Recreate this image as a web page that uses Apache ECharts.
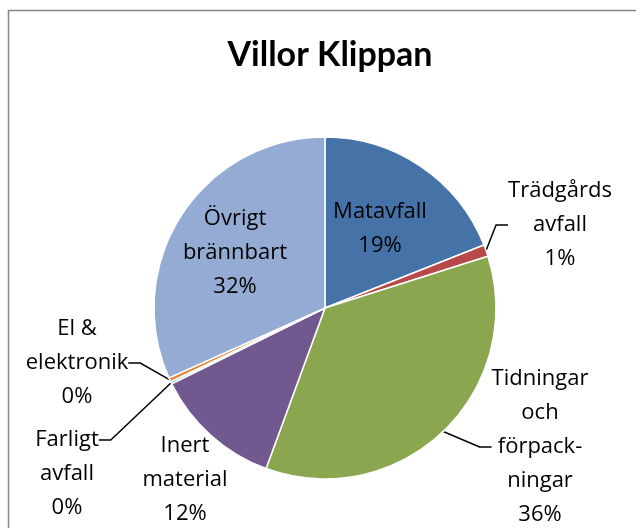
<!DOCTYPE html>
<html>
<head>
<meta charset="utf-8">
<script src="https://cdn.jsdelivr.net/npm/echarts@6/dist/echarts.min.js"></script>
<style>
  html, body { margin: 0; padding: 0; background: #fff; }
  #chart { width: 636px; height: 528px; }
</style>
</head>
<body>
<div id="chart"></div>
<script>
// category labels as drawn (wrapped like in the picture)
const categories = [
  "Matavfall",
  "Trädgårds\navfall",
  "Tidningar\noch\nförpack-\nningar",
  "Inert\nmaterial",
  "Farligt\navfall",
  "El &\nelektronik",
  "Övrigt\nbrännbart"
];
// share of total, percent
const values = [19.0, 1.1, 35.5, 12.1, 0.2, 0.4, 31.7];
const colors = ["#4572a7", "#b8484a", "#8aa74f", "#71598f", "#4aa3b8", "#e8873a", "#94abd3"];

// where each label sits (x, y of label box centre)
const labelPos = [
  [380, 229],
  [560, 225],
  [540, 447],
  [185, 480],
  [67, 440],
  [77, 363],
  [235, 253]
];
const insideLabels = [0, 6];

const chart = echarts.init(document.getElementById("chart"));

const data = categories.map((name, i) => ({
  name: name,
  value: values[i],
  itemStyle: { color: colors[i] },
  label: {
    position: insideLabels.includes(i) ? "inside" : "outside",
    // two empty lines on top so the leader line meets "Farligt"
    formatter: i === 4 ? "\n\n{b}\n{d}%" : "{b}\n{d}%"
  },
  labelLine: { show: !insideLabels.includes(i) && i !== 3 }
}));

chart.setOption({
  animation: false,
  title: {
    text: "Villor Klippan",
    left: 325,
    top: 33,
    textAlign: "center",
    textStyle: { fontFamily: "Lato", fontSize: 34, fontWeight: "bold", color: "#000" }
  },
  graphic: [{
    type: "rect",
    shape: { x: 8.5, y: 10.5, width: 640, height: 530 },
    style: { fill: null, stroke: "#878787", lineWidth: 1.5 },
    z: -1
  }],
  series: [{
    type: "pie",
    center: [325, 308],
    radius: 171,
    startAngle: 90,
    clockwise: true,
    percentPrecision: 0,
    avoidLabelOverlap: false,
    data: data,
    itemStyle: { borderColor: "#fff", borderWidth: 1.5 },
    label: {
      fontFamily: "'Open Sans'",
      fontSize: 22,
      lineHeight: 34,
      color: "#000",
      align: "center"
    },
    labelLine: {
      length: 20,
      length2: 12,
      lineStyle: { color: "#000", width: 1.5 }
    },
    labelLayout: function (p) {
      const pos = labelPos[p.dataIndex];
      return { x: pos[0], y: pos[1], align: "center", verticalAlign: "middle" };
    }
  }]
});
</script>
</body>
</html>
